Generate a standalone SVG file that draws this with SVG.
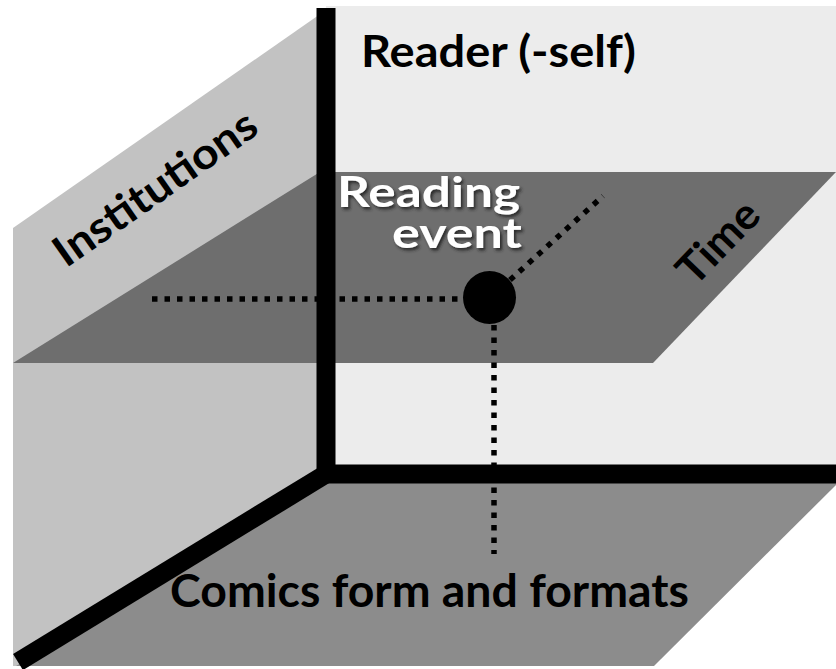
<svg xmlns="http://www.w3.org/2000/svg" width="836" height="669" viewBox="0 0 836 669">
  <defs>
    <style>
      .lbl { font-family: Lato, "Liberation Sans", sans-serif; font-weight: bold; fill: #000; }
      .wlbl { font-family: Lato, "Liberation Sans", sans-serif; font-weight: bold; fill: #fff; }
      .axis { stroke: #000; stroke-width: 19; fill: none; }
      .dot { stroke: #000; stroke-width: 5.5; stroke-dasharray: 5.5 7; fill: none; }
    </style>
    <filter id="shadow" x="-10%" y="-20%" width="130%" height="150%">
      <feDropShadow dx="2" dy="2.5" stdDeviation="1.5" flood-color="#222" flood-opacity="0.9"/>
    </filter>
  </defs>
  <rect x="0" y="0" width="836" height="669" fill="#ffffff"/>
  <g id="back-wall">
    <rect x="326" y="6" width="510" height="470" fill="#ececec"/>
  </g>
  <g id="left-wall">
    <polygon points="13,228 326,10 326,666 13,666" fill="#c2c2c2"/>
  </g>
  <g id="floor">
    <polygon points="326,474 836,474 836,485 654,666 16,666" fill="#8c8c8c"/>
  </g>
  <g id="plane">
    <polygon points="13,363 320,172 836,172 653,363" fill="#6e6e6e"/>
  </g>
  <g id="axes">
    <line class="axis" x1="326" y1="8" x2="326" y2="474"/>
    <line class="axis" x1="317" y1="474" x2="836" y2="474"/>
    <line class="axis" x1="326" y1="474" x2="18" y2="662"/>
  </g>
  <g id="connectors">
    <line class="dot" x1="152" y1="299" x2="464" y2="299"/>
    <line class="dot" x1="510" y1="280" x2="603" y2="196"/>
    <line class="dot" x1="494" y1="325" x2="494" y2="554"/>
  </g>
  <g id="reading-event">
    <circle cx="489.5" cy="297.5" r="26.5" fill="#000"/>
    <text class="wlbl" font-size="42" filter="url(#shadow)"><tspan x="337" y="207" textLength="183" lengthAdjust="spacingAndGlyphs">Reading</tspan><tspan x="392" y="248" textLength="130" lengthAdjust="spacingAndGlyphs">event</tspan></text>
  </g>
  <g id="reader-label">
    <text class="lbl" x="361" y="67" font-size="44" textLength="275" lengthAdjust="spacingAndGlyphs">Reader (-self)</text>
  </g>
  <g id="institutions-label">
    <text class="lbl" transform="translate(155,188) rotate(-35)" x="0" y="15" font-size="43" text-anchor="middle" textLength="238" lengthAdjust="spacingAndGlyphs">Institutions</text>
  </g>
  <g id="time-label">
    <text class="lbl" transform="translate(718,242) rotate(-46)" x="0" y="15" font-size="43" text-anchor="middle" textLength="98" lengthAdjust="spacingAndGlyphs">Time</text>
  </g>
  <g id="comics-label">
    <text class="lbl" x="170" y="607" font-size="45" textLength="519" lengthAdjust="spacingAndGlyphs">Comics form and formats</text>
  </g>
</svg>
